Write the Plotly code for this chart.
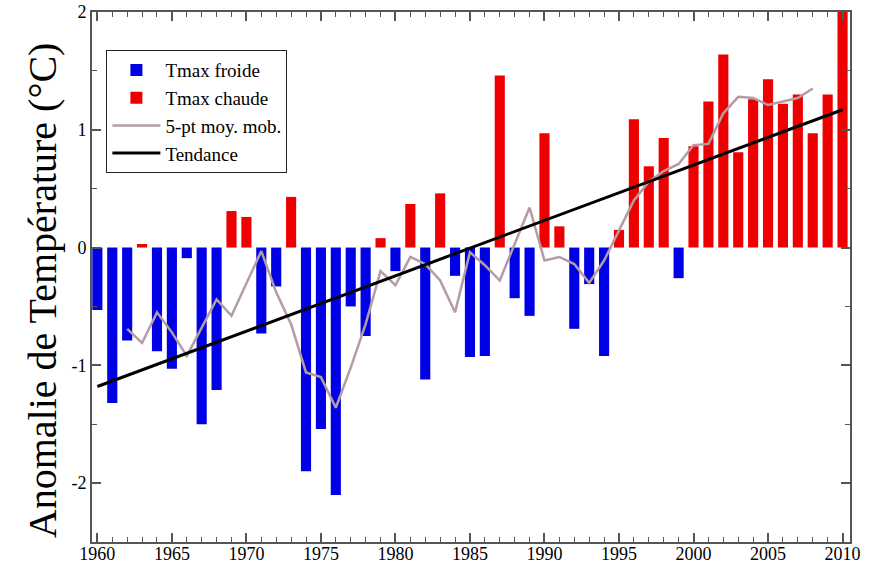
import plotly.graph_objects as go

years = list(range(1960, 2011))
anomalies = [-0.53, -1.32, -0.79, 0.03, -0.88, -1.03, -0.09, -1.50, -1.21, 0.31,
             0.26, -0.73, -0.33, 0.43, -1.90, -1.54, -2.10, -0.50, -0.75, 0.08,
             -0.20, 0.37, -1.12, 0.46, -0.24, -0.93, -0.92, 1.46, -0.43, -0.58,
             0.97, 0.18, -0.69, -0.31, -0.92, 0.15, 1.09, 0.69, 0.93, -0.26,
             0.86, 1.24, 1.64, 0.81, 1.26, 1.43, 1.22, 1.30, 0.97, 1.30,
             2.00]

ma_years = list(range(1962, 2009))
ma_values = [-0.69, -0.81, -0.55, -0.72, -0.92, -0.68, -0.44, -0.58, -0.31, -0.03,
             -0.38, -0.65, -1.06, -1.10, -1.36, -1.02, -0.65, -0.20, -0.32, -0.08,
             -0.14, -0.28, -0.55, -0.04, -0.15, -0.28, 0.03, 0.34, -0.11, -0.08,
             -0.14, -0.30, -0.11, 0.14, 0.40, 0.56, 0.65, 0.71, 0.87, 0.88,
             1.14, 1.28, 1.27, 1.21, 1.24, 1.27, 1.35]

trend_years = [1960, 2010]
trend_values = [-1.18, 1.17]

x_ticks = [1960, 1965, 1970, 1975, 1980, 1985, 1990, 1995, 2000, 2005, 2010]
y_ticks = [-2, -1, 0, 1, 2]

cold_x = [y for y, v in zip(years, anomalies) if v < 0]
cold_v = [v for v in anomalies if v < 0]
warm_x = [y for y, v in zip(years, anomalies) if v >= 0]
warm_v = [v for v in anomalies if v >= 0]

FONT = "Liberation Serif"
AXC = "#555555"

fig = go.Figure()
fig.add_trace(go.Bar(x=cold_x, y=cold_v, name="Tmax froide", marker_color="#0000e6",
                     marker_line_width=0, width=0.68))
fig.add_trace(go.Bar(x=warm_x, y=warm_v, name="Tmax chaude", marker_color="#ee0000",
                     marker_line_width=0, width=0.68))
fig.add_trace(go.Scatter(x=ma_years, y=ma_values, mode="lines", name="5-pt moy. mob.",
                         line=dict(color="#b59ca4", width=2.5)))
fig.add_trace(go.Scatter(x=trend_years, y=trend_values, mode="lines", name="Tendance",
                         line=dict(color="black", width=3)))

fig.update_layout(
    width=875, height=566,
    margin=dict(l=92, r=25, t=12, b=24),
    paper_bgcolor="white", plot_bgcolor="white",
    barmode="overlay",
    font=dict(family=FONT, color="black", size=18),
    showlegend=True,
    legend=dict(x=0.019, y=0.928, xanchor="left", yanchor="top",
                bordercolor="#222222", borderwidth=1, bgcolor="white",
                font=dict(family=FONT, size=19, color="black"), tracegroupgap=0,
                itemwidth=48),
)
fig.update_xaxes(
    range=[1959.64, 2010.5], tickvals=x_ticks, ticktext=[str(t) for t in x_ticks],
    ticks="inside", ticklen=9, tickwidth=1.5, tickcolor=AXC, automargin=False,
    ticklabelstandoff=-6,
    showline=True, linecolor=AXC, linewidth=2, mirror="allticks",
    showgrid=False, zeroline=False,
    tickfont=dict(family=FONT, size=18, color="black"),
    minor=dict(ticks="inside", dtick=1, ticklen=5, tickwidth=1, tickcolor=AXC, showgrid=False),
)
fig.update_yaxes(
    range=[-2.5, 2.0], tickvals=y_ticks, ticktext=[str(t) for t in y_ticks],
    ticks="inside", ticklen=9, tickwidth=1.5, tickcolor=AXC, automargin=False,
    showline=True, linecolor=AXC, linewidth=2, mirror="allticks",
    showgrid=False, zeroline=False,
    tickfont=dict(family=FONT, size=18, color="black"),
    minor=dict(ticks="inside", dtick=0.5, ticklen=5, tickwidth=1, tickcolor=AXC, showgrid=False),
)
fig.add_annotation(text="Anomalie de Température (°C)", xref="paper", yref="paper",
                   x=-0.066, y=0.475, xanchor="center", yanchor="middle",
                   textangle=-90, showarrow=False,
                   font=dict(family=FONT, size=40, color="black"))

fig.write_html("out.html")
